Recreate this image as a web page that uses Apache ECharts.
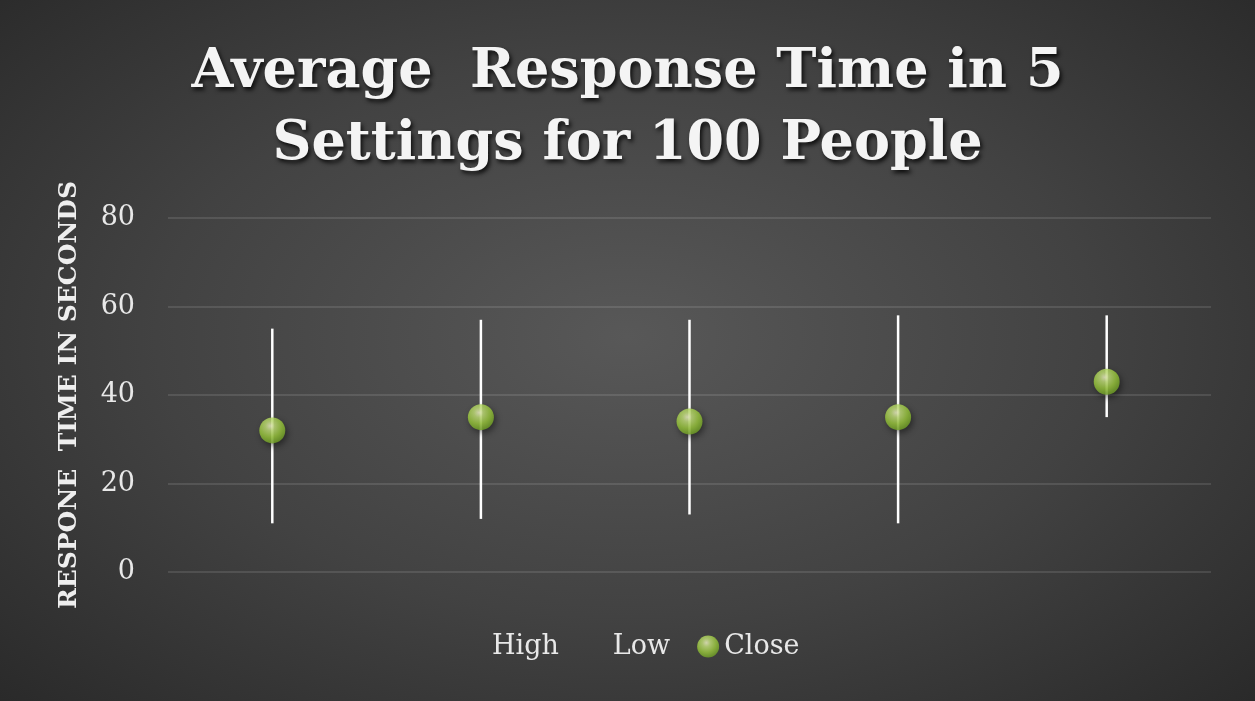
<!DOCTYPE html>
<html>
<head>
<meta charset="utf-8">
<script src="https://cdn.jsdelivr.net/npm/echarts@6/dist/echarts.min.js"></script>
<style>
  html, body { margin: 0; padding: 0; }
  #chart {
    width: 1255px;
    height: 701px;
    background: radial-gradient(ellipse 75% 80% at 50% 48%, #585858 0%, #424242 50%, #262626 100%);
  }
</style>
</head>
<body>
<div id="chart"></div>
<script>
// five settings, values in seconds
const settings = ["Setting 1", "Setting 2", "Setting 3", "Setting 4", "Setting 5"];
const high = [55, 57, 57, 58, 58];
const low = [11, 12, 13, 11, 35];
const close = [32, 35, 34, 35, 43];
const yTicks = [0, 20, 40, 60, 80];

const myChart = echarts.init(document.getElementById("chart"));

// green glossy ball like the excel marker
const sphere = {
  type: "radial",
  x: 0.42,
  y: 0.33,
  r: 0.72,
  colorStops: [
    { offset: 0, color: "#f5fac8" },
    { offset: 0.25, color: "#c6e57a" },
    { offset: 0.6, color: "#9dcb3e" },
    { offset: 1, color: "#6a9a22" },
  ],
};

const rangeData = settings.map((s, i) => [i, high[i], low[i]]);

const option = {
  animation: false,
  title: {
    text: "Average  Response Time in 5\nSettings for 100 People",
    left: "center",
    top: 32,
    textStyle: {
      fontFamily: "DejaVu Serif",
      fontWeight: "bold",
      fontSize: 54,
      lineHeight: 72,
      color: "#f4f4f4",
      textShadowColor: "rgba(0,0,0,0.8)",
      textShadowBlur: 4,
      textShadowOffsetX: 2,
      textShadowOffsetY: 3,
    },
  },
  grid: {
    left: 168,
    right: 44,
    top: 218,
    bottom: 129,
  },
  legend: {
    top: 628,
    left: 460,
    itemWidth: 22,
    itemHeight: 22,
    itemGap: 27,
    textStyle: {
      fontFamily: "DejaVu Serif",
      fontSize: 27,
      color: "#e8e8e8",
    },
    data: [
      { name: "High", icon: "none" },
      { name: "Low", icon: "none" },
      { name: "Close", icon: "circle" },
    ],
  },
  xAxis: {
    type: "category",
    data: settings,
    boundaryGap: true,
    axisLine: { show: false },
    axisTick: { show: false },
    axisLabel: { show: false },
  },
  yAxis: {
    type: "value",
    min: yTicks[0],
    max: yTicks[yTicks.length - 1],
    interval: 20,
    name: "RESPONE  TIME IN SECONDS",
    nameLocation: "middle",
    nameRotate: 90,
    nameGap: 86,
    nameTextStyle: {
      fontFamily: "DejaVu Serif",
      fontWeight: "bold",
      fontSize: 25,
      color: "#eeeeee",
    },
    axisLine: { show: false },
    axisTick: { show: false },
    axisLabel: {
      margin: 33,
      fontFamily: "DejaVu Serif",
      fontSize: 27,
      color: "#e8e8e8",
    },
    splitLine: {
      lineStyle: { color: "rgba(255,255,255,0.11)", width: 2 },
    },
  },
  series: [
    {
      name: "Range",
      type: "custom",
      data: rangeData,
      encode: { x: 0, y: [1, 2] },
      z: 2,
      renderItem: function (params, api) {
        const top = api.coord([api.value(0), api.value(1)]);
        const bottom = api.coord([api.value(0), api.value(2)]);
        return {
          type: "line",
          shape: { x1: top[0], y1: top[1], x2: bottom[0], y2: bottom[1] },
          style: { stroke: "#ffffff", lineWidth: 2.5 },
        };
      },
    },
    {
      name: "High",
      type: "line",
      data: high,
      symbol: "none",
      lineStyle: { opacity: 0 },
      itemStyle: { color: "transparent" },
      silent: true,
    },
    {
      name: "Low",
      type: "line",
      data: low,
      symbol: "none",
      lineStyle: { opacity: 0 },
      itemStyle: { color: "transparent" },
      silent: true,
    },
    {
      name: "Close",
      type: "scatter",
      data: close,
      symbol: "circle",
      symbolSize: 26,
      z: 5,
      itemStyle: {
        color: sphere,
        shadowColor: "rgba(0,0,0,0.55)",
        shadowBlur: 6,
        shadowOffsetX: 2,
        shadowOffsetY: 3,
      },
    },
  ],
};

myChart.setOption(option);
</script>
</body>
</html>
